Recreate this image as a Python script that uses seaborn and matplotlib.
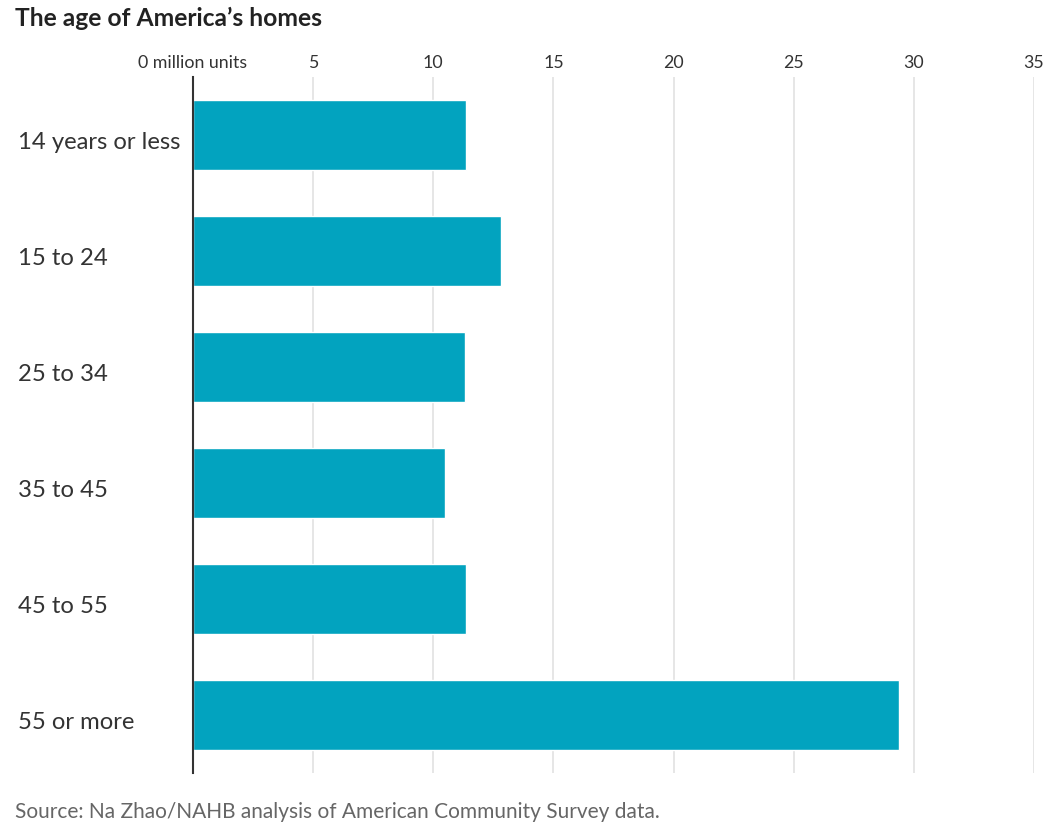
import matplotlib
matplotlib.use("Agg")
import pandas as pd
import matplotlib.pyplot as plt
import matplotlib.transforms as mtransforms
import seaborn as sns

# Data (million units)
age_groups = ["14 years or less", "15 to 24", "25 to 34", "35 to 45", "45 to 55", "55 or more"]
units = [11.36, 12.82, 11.31, 10.47, 11.37, 29.38]
x_ticks = [0, 5, 10, 15, 20, 25, 30, 35]
x_tick_labels = ["0 million units", "5", "10", "15", "20", "25", "30", "35"]

df = pd.DataFrame({"age": age_groups, "units": units})

sns.set_style("white")
plt.rcParams["font.family"] = ["Lato", "DejaVu Sans"]

fig = plt.figure(figsize=(10.58, 8.33), dpi=100)
ax = fig.add_axes([193 / 1058, 60 / 833, (1034 - 193) / 1058, (773 - 77) / 833])

sns.barplot(data=df, x="units", y="age", color="#02a3bf", width=0.6,
            saturation=1, ax=ax, zorder=3)

# Axis styling
ax.set_xlim(0, 35)
ax.set_ylim(len(age_groups) - 0.5, -0.5)
ax.set_xlabel("")
ax.set_ylabel("")
ax.xaxis.tick_top()
ax.set_xticks(x_ticks)
ax.set_xticklabels(x_tick_labels, fontsize=12.8, color="#333333")
ax.tick_params(axis="x", length=0, pad=4)
ax.grid(axis="x", color="#e2e2e2", linewidth=1.2, zorder=0)
for s in ["top", "right", "bottom"]:
    ax.spines[s].set_visible(False)
ax.spines["left"].set_color("#333333")
ax.spines["left"].set_linewidth(1.5)
ax.spines["left"].set_zorder(4)

# left-aligned category labels, nudged down a little
ax.tick_params(axis="y", length=0, pad=126)
shift = mtransforms.ScaledTranslation(0, -4 / 72, fig.dpi_scale_trans)
for lbl in ax.get_yticklabels():
    lbl.set_horizontalalignment("left")
    lbl.set_fontsize(17.2)
    lbl.set_color("#333333")
    lbl.set_transform(lbl.get_transform() + shift)

# Title and source
fig.text(15 / 1058, 1 - 18 / 833, "The age of America\u2019s homes", fontsize=17.7,
         fontweight="bold", color="#222222", va="center", ha="left")
fig.text(15 / 1058, 1 - 812 / 833, "Source: Na Zhao/NAHB analysis of American Community Survey data.",
         fontsize=15, color="#666666", va="center", ha="left")

fig.savefig("out.png", dpi=100)
